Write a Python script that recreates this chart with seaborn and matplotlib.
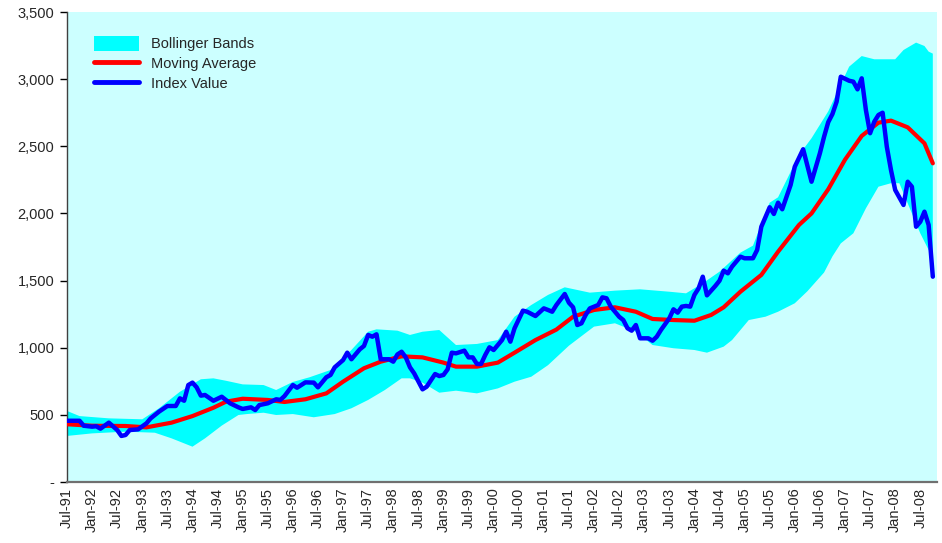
import matplotlib
matplotlib.use("Agg")
import matplotlib.pyplot as plt
from matplotlib.ticker import FuncFormatter
from matplotlib.patches import Patch
import seaborn as sns

# months counted from Jul-91 (0) to Oct-08 (207)
index_months = [0, 3, 4, 6, 7, 8, 10, 12, 13, 14, 15, 17, 19, 20, 22, 24, 26, 27, 28, 29,
                30, 31, 32, 33, 35, 37, 39, 41, 42, 44, 45, 46, 48, 50, 51, 52, 54, 55, 57, 59,
                60, 62, 63, 64, 66, 67, 68, 70, 71, 72, 73, 74, 75, 77, 78, 79, 80, 81, 82, 83,
                85, 86, 88, 89, 90, 91, 92, 93, 95, 96, 97, 98, 99, 100, 101, 102, 104, 105, 106, 107,
                109, 110, 112, 114, 115, 116, 117, 119, 120, 121, 122, 123, 124, 125, 127, 128, 129, 130, 132, 133,
                134, 135, 136, 137, 139, 140, 141, 142, 144, 145, 146, 147, 148, 149, 150, 151, 152, 153, 155, 156,
                157, 158, 159, 161, 162, 164, 165, 166, 168, 169, 170, 171, 173, 174, 176, 178, 180, 181, 182, 183,
                184, 185, 187, 188, 189, 190, 191, 192, 193, 194, 195, 196, 197, 198, 200, 201, 202, 203, 204, 205,
                206, 207]
index_value = [456, 456, 419, 412, 415, 397, 442, 387, 343, 350, 387, 392, 437, 474, 524, 566, 566, 623, 605, 722,
               740, 705, 643, 648, 605, 635, 586, 556, 544, 556, 536, 573, 586, 616, 611, 640, 722, 702, 742, 740,
               705, 780, 797, 854, 908, 963, 914, 988, 1013, 1095, 1082, 1100, 914, 914, 896, 950, 970, 928, 854, 809,
               690, 710, 804, 789, 797, 839, 963, 958, 978, 928, 928, 879, 879, 946, 1003, 983, 1057, 1119, 1045, 1145,
               1276, 1268, 1236, 1293, 1281, 1268, 1318, 1400, 1335, 1301, 1169, 1182, 1244, 1293, 1318, 1375, 1368, 1306, 1231, 1206,
               1145, 1127, 1169, 1070, 1070, 1052, 1082, 1132, 1219, 1286, 1261, 1306, 1311, 1306, 1393, 1442, 1529, 1390, 1460, 1499,
               1574, 1554, 1604, 1678, 1666, 1666, 1728, 1901, 2046, 1996, 2080, 2031, 2212, 2348, 2478, 2236, 2448, 2571, 2680, 2740,
               2832, 3018, 2988, 2981, 2924, 3006, 2770, 2597, 2683, 2733, 2750, 2497, 2323, 2175, 2063, 2236, 2199, 1901, 1938, 2013,
               1914, 1529]

ma_months = [0, 6, 14, 19, 25, 30, 35, 38, 42, 48, 52, 57, 62, 66, 71, 75, 80, 85, 90, 93,
             98, 103, 107, 112, 117, 121, 126, 131, 136, 140, 145, 150, 154, 157, 161, 166, 170, 175, 178, 182,
             186, 190, 194, 197, 201, 205, 207]
moving_avg = [430, 419, 417, 407, 442, 491, 553, 598, 620, 611, 596, 616, 660, 747, 847, 896, 936, 928, 889, 859,
              859, 889, 963, 1057, 1135, 1231, 1281, 1301, 1268, 1214, 1206, 1201, 1244, 1301, 1417, 1542, 1715, 1914, 2000, 2180,
              2400, 2577, 2676, 2691, 2641, 2522, 2373]

upper_months = [0, 3, 10, 18, 22, 27, 32, 35, 38, 42, 47, 50, 54, 58, 63, 68, 72, 74, 79, 82,
                85, 89, 93, 98, 103, 107, 111, 115, 119, 125, 131, 137, 144, 148, 152, 156, 161, 164, 166, 168,
                170, 175, 178, 182, 187, 190, 193, 198, 200, 203, 205, 206, 207]
upper_band = [529, 491, 474, 467, 549, 672, 765, 772, 754, 727, 722, 685, 745, 780, 834, 983, 1119, 1137, 1127, 1095,
              1119, 1132, 1020, 1028, 1057, 1231, 1318, 1393, 1450, 1410, 1425, 1435, 1417, 1405, 1480, 1566, 1708, 1760, 1920, 2080,
              2120, 2435, 2560, 2760, 3093, 3172, 3148, 3148, 3217, 3272, 3247, 3205, 3190]

lower_months = [0, 6, 14, 21, 25, 30, 33, 37, 41, 43, 47, 50, 54, 59, 64, 68, 72, 76, 80, 82,
                85, 89, 93, 98, 103, 107, 111, 115, 120, 126, 131, 136, 140, 145, 150, 153, 157, 159, 163, 167,
                170, 174, 177, 181, 183, 185, 188, 191, 194, 197, 199, 201, 204, 206, 207]
lower_band = [343, 362, 375, 367, 325, 263, 325, 420, 499, 506, 516, 499, 506, 482, 506, 549, 611, 685, 772, 772,
              740, 665, 680, 660, 697, 747, 784, 870, 1015, 1157, 1182, 1119, 1020, 996, 983, 963, 1008, 1057, 1206, 1231,
              1268, 1331, 1420, 1560, 1680, 1777, 1852, 2038, 2199, 2225, 2225, 2075, 1852, 1728, 1678]

tick_months = list(range(0, 205, 6))
tick_labels = ["Jul-91", "Jan-92", "Jul-92", "Jan-93", "Jul-93", "Jan-94", "Jul-94", "Jan-95", "Jul-95",
               "Jan-96", "Jul-96", "Jan-97", "Jul-97", "Jan-98", "Jul-98", "Jan-99", "Jul-99", "Jan-00",
               "Jul-00", "Jan-01", "Jul-01", "Jan-02", "Jul-02", "Jan-03", "Jul-03", "Jan-04", "Jul-04",
               "Jan-05", "Jul-05", "Jan-06", "Jul-06", "Jan-07", "Jul-07", "Jan-08", "Jul-08"]

sns.set_style("white")
plt.rcParams['font.family'] = ['Liberation Sans', 'DejaVu Sans']

fig = plt.figure(figsize=(9.42, 5.43), dpi=100)
ax = fig.add_axes([67 / 942, 1 - 482 / 543, 870 / 942, 470 / 543])
ax.set_facecolor('#CCFFFF')

# band polygon: upper edge forward, lower edge back
band_x = upper_months + lower_months[::-1]
band_y = upper_band + lower_band[::-1]
ax.fill(band_x, band_y, color='#00FFFF', linewidth=0, zorder=1)

sns.lineplot(x=ma_months, y=moving_avg, ax=ax, color='#FF0000', linewidth=3.0, zorder=3)
sns.lineplot(x=index_months, y=index_value, ax=ax, color='#0000FF', linewidth=3.2, zorder=4)

ax.set_xlim(0, 208)
ax.set_ylim(0, 3500)
ax.set_yticks(range(0, 3501, 500))
ax.yaxis.set_major_formatter(FuncFormatter(lambda v, p: '-' if v == 0 else f'{v:,.0f}'))
ax.set_xticks(tick_months)
ax.set_xticklabels(tick_labels, rotation=90)

ax.tick_params(axis='y', length=5, width=1, color='black', labelsize=10.5, pad=4, left=True)
ax.tick_params(axis='x', length=0, labelsize=10.5, pad=4)

for s in ['top', 'right']:
    ax.spines[s].set_visible(False)
ax.spines['left'].set_color('#404040')
ax.spines['left'].set_linewidth(1.0)
ax.spines['bottom'].set_color('#707070')
ax.spines['bottom'].set_linewidth(1.6)

handles = [Patch(facecolor='#00FFFF', edgecolor='none'),
           plt.Line2D([], [], color='#FF0000', linewidth=3.5),
           plt.Line2D([], [], color='#0000FF', linewidth=3.5)]
ax.legend(handles, ['Bollinger Bands', 'Moving Average', 'Index Value'],
          loc='upper left', bbox_to_anchor=(0.031, 0.949), frameon=False,
          fontsize=10.5, handlelength=3.1, handleheight=1.2, handletextpad=0.8,
          labelspacing=0.3, borderpad=0, borderaxespad=0)

plt.savefig('out.png', dpi=100)
